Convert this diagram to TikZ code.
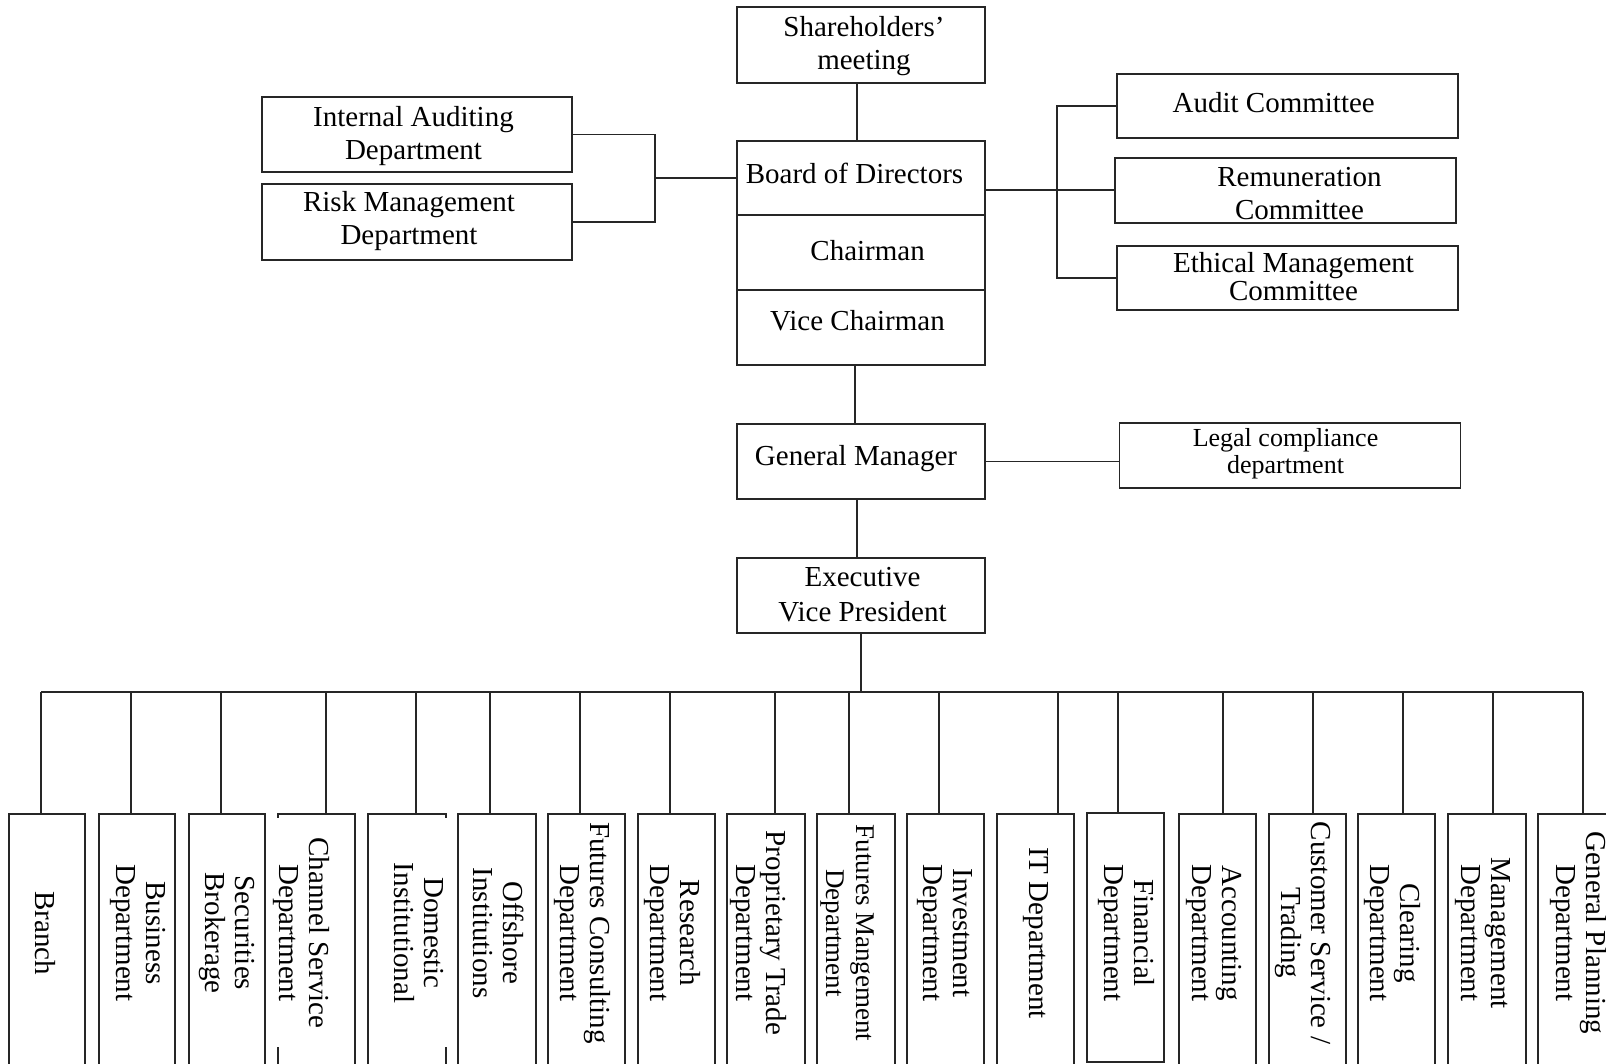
\documentclass[tikz,border=0pt]{standalone}
\usepackage{fontspec}
\setmainfont{Liberation Serif}
\begin{document}
\begin{tikzpicture}[x=1pt,y=-1pt,
  ln/.style={line width=1.8pt, draw=black!85},
  boxline/.style={line width=1.8pt, draw=black!85},
  box/.style={draw=black!85, line width=1.8pt, rectangle, inner sep=0pt, outer sep=0pt},
  wide/.style={box, minimum width=248pt},
  side/.style={box, minimum width=341pt},
  txt/.style={inner sep=0pt, align=center, font={\fontsize{29}{33.5}\selectfont}},
  vtxt/.style={inner sep=0pt, align=center, rotate=-90, font={\fontsize{29}{30}\selectfont}},
  dept/.style={box, anchor=north west, minimum width=77pt, minimum height=262pt},
]
\useasboundingbox (0,0) rectangle (1606,1063);
\clip (0,0) rectangle (1606,1063);

% top column
\node[wide, minimum height=76pt] (sh) at (861,45) {};
\node[txt] (tsh) at (864,46) {Shareholders’\\meeting};
\node[wide, minimum height=74pt] (bod) at (861,178) {};
\node[txt] (tbod) at (854.5,173) {Board of Directors};
\node[wide, minimum height=75pt] (ch) at (861,252.5) {};
\node[txt] (tch) at (867.6,251) {Chairman};
\node[wide, minimum height=75pt] (vc) at (861,327.5) {};
\node[txt] (tvc) at (857.5,321) {Vice Chairman};

% left departments
\node[box, minimum width=310pt, minimum height=75pt] (ia) at (417,134.5) {};
\node[txt] (tia) at (413.5,136) {Internal Auditing\\Department};
\node[box, minimum width=310pt, minimum height=76pt] (rm) at (417,222) {};
\node[txt] (trm) at (409,221) {Risk Management\\Department};

% committees
\node[side, minimum height=64pt] (aud) at (1287.5,106) {};
\node[txt] (taud) at (1273.7,103) {Audit Committee};
\node[side, minimum height=65pt] (rem) at (1285.5,190.5) {};
\node[txt] (trem) at (1299.5,193.5) {Remuneration\\Committee};
\node[side, minimum height=64pt] (eth) at (1287.5,278) {};
\node[txt, font={\fontsize{29}{28}\selectfont}] (teth) at (1293.5,277) {Ethical Management\\Committee};

% general manager, legal, EVP
\node[wide, minimum height=75pt] (gm) at (861,461.5) {};
\node[txt] (tgm) at (856,459) {General Manager};
\node[side, minimum height=65pt] (lg) at (1290,455.5) {};
\node[txt, font={\fontsize{26}{27}\selectfont}] (tlg) at (1285.5,454) {Legal compliance\\department};
\node[wide, minimum height=75pt] (evp) at (861,595.5) {};
\node[txt, font={\fontsize{29}{35}\selectfont}] (tevp) at (862.5,595) {Executive\\Vice President};

% connectors, upper part
\draw[ln] ([xshift=-4pt]sh.south) -- ([xshift=-4pt]bod.north);
\coordinate (jl) at (655,178);
\draw[ln] (ia.east) -| (jl) |- (rm.east);
\draw[ln] (jl) -- (bod.west);
\coordinate (jr) at (1057,190);
\draw[ln] (aud.west) -| (jr) |- (eth.west);
\draw[ln] (bod.east |- jr) -- (rem.west |- jr);
\draw[ln] ([xshift=-6pt]vc.south) -- ([xshift=-6pt]gm.north);
\draw[ln] (gm.east) -- (gm.east -| lg.west);
\draw[ln] ([xshift=-4pt]gm.south) -- ([xshift=-4pt]evp.north);

% bottom departments
\node[dept, minimum width=76pt] (d1) at (9,814) {};
\node[dept, minimum width=76pt] (d2) at (99,814) {};
\node[dept, minimum width=76pt] (d3) at (189,814) {};
\node[dept, draw=none] (d4) at (278,814) {};
\draw[boxline] (d4.south east) -- (d4.north east) -- (d4.north west) -- ++(0,4);
\draw[boxline] ([yshift=-233pt]d4.north west) -- (d4.south west);
\node[dept, draw=none, minimum width=78pt] (d5) at (368,814) {};
\draw[boxline] (d5.south west) -- (d5.north west) -- (d5.north east) -- ++(0,4);
\draw[boxline] ([yshift=-233pt]d5.north east) -- (d5.south east);
\node[dept, minimum width=78pt] (d6) at (458,814) {};
\node[dept] (d7) at (548,814) {};
\node[dept] (d8) at (638,814) {};
\node[dept, minimum width=78pt] (d9) at (727,814) {};
\node[dept, minimum width=78pt] (d10) at (817,814) {};
\node[dept] (d11) at (907,814) {};
\node[dept] (d12) at (997,814) {};
\node[dept, minimum height=249pt] (d13) at (1087,813) {};
\node[dept] (d14) at (1179,814) {};
\node[dept] (d15) at (1269,814) {};
\node[dept] (d16) at (1358,814) {};
\node[dept, minimum width=78pt] (d17) at (1448,814) {};
\node[dept] (d18) at (1538,814) {};

\foreach \i/\cx in {1/41,2/131,3/221,4/326,5/416,6/490,7/580,8/670,9/775,10/849,11/939,12/1058,13/1118,14/1223,15/1313,16/1403,17/1493,18/1583}{
  \coordinate (c\i) at (\cx,692);
  \draw[ln] (c\i) -- (c\i |- d\i.north);
}
\draw[ln] (c1) -- (c18);
\draw[ln] (evp.south) -- (evp.south |- c1);

% bottom texts
\node[vtxt] (t1) at (45.6,933) {Branch};
\node[vtxt] (t2) at (138,933) {Business\\Department};
\node[vtxt] (t3) at (227,933) {Securities\\Brokerage};
\node[vtxt] (t4) at (301,933) {Channel Service\\Department};
\node[vtxt] (t5) at (419,933) {Domestic\\Institutional};
\node[vtxt] (t6) at (499,933) {Offshore\\Institutions};
\node[vtxt] (t7) at (582.5,933) {Futures Consulting\\Department};
\node[vtxt] (t8) at (672,933) {Research\\Department};
\node[vtxt] (t9) at (758,933) {Proprietary Trade\\Department};
\node[vtxt, font={\fontsize{27}{30}\selectfont}] (t10) at (847.6,933) {Futures Mangement\\Department};
\node[vtxt] (t11) at (945,933) {Investment\\Department};
\node[vtxt] (t12) at (1036,933) {IT Department};
\node[vtxt] (t13) at (1126,933) {Financial\\Department};
\node[vtxt] (t14) at (1214,933) {Accounting\\Department};
\node[vtxt] (t15) at (1303,933) {Customer Service /\\Trading};
\node[vtxt] (t16) at (1392.5,933) {Clearing\\Department};
\node[vtxt] (t17) at (1483,933) {Management\\Department};
\node[vtxt] (t18) at (1578,933) {General Planning\\Department};
\end{tikzpicture}
\end{document}
